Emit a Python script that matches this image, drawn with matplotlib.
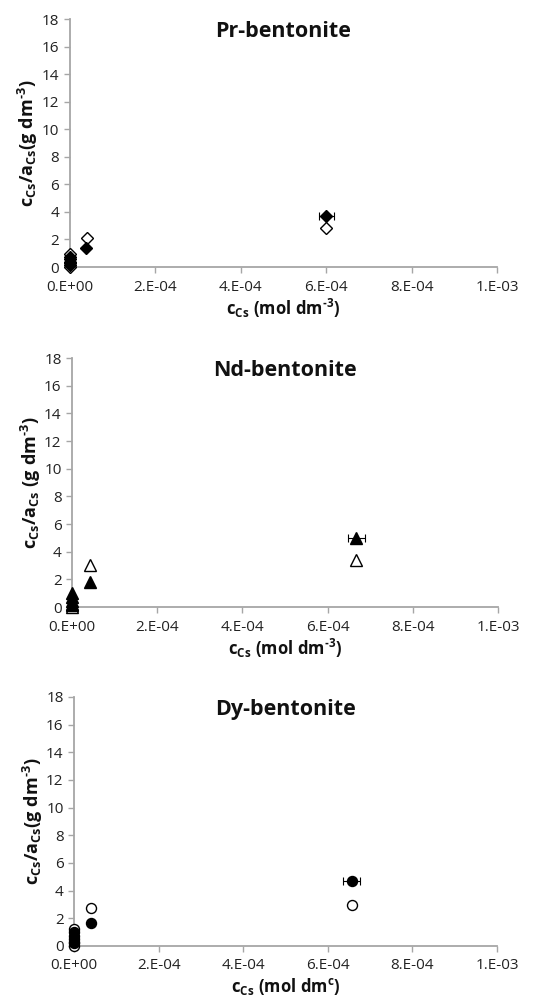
import numpy as np
import matplotlib.pyplot as plt

plt.rcParams['font.family'] = ['Open Sans', 'DejaVu Sans']
plt.rcParams['mathtext.fontset'] = 'custom'
plt.rcParams['mathtext.rm'] = 'Open Sans'
plt.rcParams['mathtext.bf'] = 'Open Sans:bold'
plt.rcParams['mathtext.it'] = 'Open Sans:italic'

# Pr-bentonite (diamonds)
pr_fill_x = [1e-6, 1e-6, 1e-6, 1e-6, 3.9e-5, 6.0e-4]
pr_fill_y = [0.15, 0.35, 0.55, 0.75, 1.38, 3.7]
pr_open_x = [1e-6, 1e-6, 1e-6, 4.0e-5, 6.0e-4]
pr_open_y = [0.0, 0.3, 0.95, 2.1, 2.8]
pr_xerr = 1.75e-5

# Nd-bentonite (triangles)
nd_fill_x = [1e-6, 1e-6, 1e-6, 1e-6, 4.2e-5, 6.67e-4]
nd_fill_y = [0.15, 0.4, 0.7, 1.0, 1.8, 5.0]
nd_open_x = [1e-6, 1e-6, 4.2e-5, 6.67e-4]
nd_open_y = [0.0, 0.2, 3.03, 3.4]
nd_xerr = 2.0e-5

# Dy-bentonite (circles)
dy_fill_x = [1e-6, 1e-6, 1e-6, 1e-6, 3.95e-5, 6.56e-4]
dy_fill_y = [0.25, 0.5, 0.75, 1.0, 1.64, 4.72]
dy_open_x = [1e-6, 1e-6, 1e-6, 3.95e-5, 6.56e-4]
dy_open_y = [0.0, 0.3, 1.2, 2.72, 2.96]
dy_xerr = 2.0e-5

xticks = [0, 2e-4, 4e-4, 6e-4, 8e-4, 1e-3]
xticklabels = ['0.E+00', '2.E-04', '4.E-04', '6.E-04', '8.E-04', '1.E-03']
yticks = list(range(0, 19, 2))

hy = '\u2010'  # plain hyphen look instead of math minus
panels = [
    dict(title='Pr-bentonite', marker='D', ms=6.5,
         fx=pr_fill_x, fy=pr_fill_y, ox=pr_open_x, oy=pr_open_y, xerr=pr_xerr,
         ylabel=r'$\mathbf{c_{Cs}/a_{Cs}(g\ dm^{' + hy + r'3})}$',
         xlabel=r'$\mathbf{c_{Cs}\ (mol\ dm^{' + hy + r'3})}$',
         rect=[0.129, 0.7335, 0.790, 0.2475]),
    dict(title='Nd-bentonite', marker='^', ms=9,
         fx=nd_fill_x, fy=nd_fill_y, ox=nd_open_x, oy=nd_open_y, xerr=nd_xerr,
         ylabel=r'$\mathbf{c_{Cs}/a_{Cs}\ (g\ dm^{' + hy + r'3})}$',
         xlabel=r'$\mathbf{c_{Cs}\ (mol\ dm^{' + hy + r'3})}$',
         rect=[0.133, 0.3942, 0.7875, 0.2485]),
    dict(title='Dy-bentonite', marker='o', ms=7.2,
         fx=dy_fill_x, fy=dy_fill_y, ox=dy_open_x, oy=dy_open_y, xerr=dy_xerr,
         ylabel=r'$\mathbf{c_{Cs}/a_{Cs}(g\ dm^{' + hy + r'3})}$',
         xlabel=r'$\mathbf{c_{Cs}\ (mol\ dm^{c})}$',
         rect=[0.1368, 0.0559, 0.7819, 0.2485]),
]

fig = plt.figure(figsize=(5.41, 10.02), dpi=100)
grey = '#a6a6a6'

for p in panels:
    ax = fig.add_axes(p['rect'])
    ax.plot(p['ox'], p['oy'], linestyle='none', marker=p['marker'], ms=p['ms'],
            mfc='white', mec='black', mew=1.0, clip_on=False, zorder=3)
    ax.plot(p['fx'], p['fy'], linestyle='none', marker=p['marker'], ms=p['ms'],
            mfc='black', mec='black', mew=1.0, clip_on=False, zorder=4)
    ax.errorbar(p['fx'][-1:], p['fy'][-1:], xerr=p['xerr'], fmt='none',
                ecolor='black', elinewidth=0.8, capsize=3, capthick=0.8, zorder=5)
    ax.set_xlim(0, 1e-3)
    ax.set_ylim(0, 18)
    ax.set_xticks(xticks)
    ax.set_xticklabels(xticklabels)
    ax.set_yticks(yticks)
    for s in ['top', 'right']:
        ax.spines[s].set_visible(False)
    for s in ['left', 'bottom']:
        ax.spines[s].set_color(grey)
        ax.spines[s].set_linewidth(1.3)
    ax.tick_params(axis='both', colors=grey, labelcolor='#222222',
                   labelsize=11, length=4, width=1.0, direction='out')
    ax.tick_params(axis='x', pad=5)
    ax.text(0.5, 0.95, p['title'], transform=ax.transAxes, ha='center', va='center',
            fontsize=15.5, fontweight='bold', color='#111111')
    ax.set_ylabel(p['ylabel'], fontsize=13, color='#111111', labelpad=1)
    ax.set_xlabel(p['xlabel'], fontsize=12, color='#111111', labelpad=2)

fig.savefig('out.png', dpi=100)
